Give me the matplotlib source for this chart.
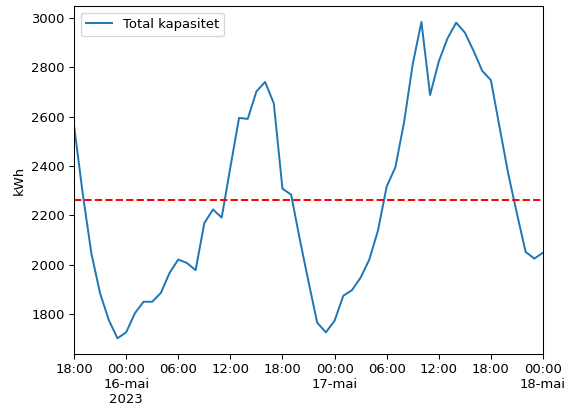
import matplotlib
matplotlib.use("Agg")
import matplotlib.pyplot as plt
import matplotlib.dates as mdates
import pandas as pd

# Hourly total capacity, 15 May 18:00 to 18 May 00:00 2023
kapasitet = [
    2564, 2288, 2045, 1884, 1776, 1702, 1726, 1803, 1850, 1850,
    1886, 1967, 2021, 2007, 1978, 2169, 2224, 2191, 2395, 2595,
    2591, 2702, 2741, 2654, 2308, 2284, 2102, 1931, 1765, 1726,
    1773, 1874, 1897, 1948, 2021, 2139, 2317, 2395, 2577, 2813,
    2984, 2688, 2824, 2917, 2981, 2941, 2867, 2786, 2748, 2557,
    2368, 2207, 2052, 2025, 2049,
]
grense = 2261

tick_labels = [
    "18:00", "00:00\n16-mai\n2023", "06:00", "12:00", "18:00",
    "00:00\n17-mai", "06:00", "12:00", "18:00", "00:00\n18-mai",
]

tid = pd.date_range("2023-05-15 18:00", periods=len(kapasitet), freq="h")
ticks = pd.date_range("2023-05-15 18:00", "2023-05-18 00:00", freq="6h")

DPI = 94.5
fig = plt.figure(figsize=(574 / DPI, 407 / DPI), dpi=DPI)
ax = fig.add_axes([0.129, 0.130, 0.817, 0.855])

ax.plot(tid, kapasitet, color="#1f77b4", linewidth=1.5, label="Total kapasitet")
ax.axhline(grense, color="red", linestyle="--", linewidth=1.5)

ax.set_xlim(tid[0], tid[-1])
ax.set_xticks(mdates.date2num(ticks.to_pydatetime()))
ax.set_xticklabels(tick_labels)
ax.set_ylabel("kWh")
ax.legend(loc="upper left")

fig.savefig("out.png", dpi=DPI)
